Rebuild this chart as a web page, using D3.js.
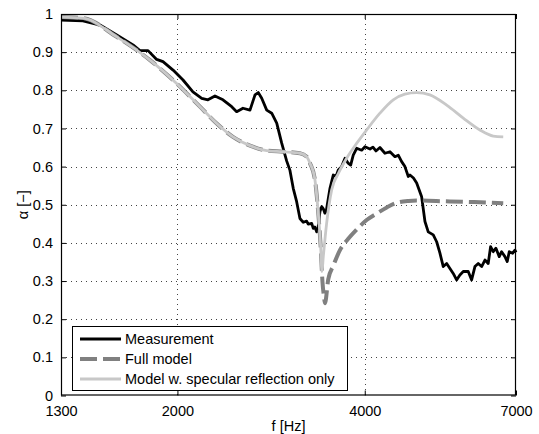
<!DOCTYPE html>
<html>
<head>
<meta charset="utf-8">
<script src="https://cdn.jsdelivr.net/npm/d3@7"></script>
<style>
  body { margin: 0; background: white; }
  svg { display: block; font-family: "Liberation Sans", Arial, sans-serif; }
</style>
</head>
<body>
<svg id="chart"></svg>
<script>
// measured absorption coefficient
const measFreq = [1300, 1410, 1502, 1598, 1697, 1741, 1794, 1852, 1896, 1968, 2042, 2118, 2188, 2239, 2298, 2367,
    2445, 2490, 2549, 2616, 2665, 2697, 2732, 2783, 2835, 2888, 2941, 2996, 3033, 3070, 3109, 3147, 3186, 3226,
    3245, 3287, 3306, 3325, 3348, 3365, 3389, 3411, 3430, 3452, 3470, 3517, 3560, 3596, 3627, 3672, 3718, 3762,
    3797, 3833, 3882, 3954, 4003, 4078, 4123, 4169, 4231, 4310, 4391, 4473, 4528, 4585, 4641, 4699, 4728, 4790,
    4847, 4937, 4998, 5059, 5154, 5219, 5283, 5348, 5416, 5482, 5549, 5619, 5688, 5759, 5866, 5940, 6013, 6087,
    6164, 6240, 6316, 6372, 6434, 6499, 6579, 6637, 6719, 6777, 6827, 6914, 6973, 7000];
const measAlpha = [0.984, 0.982, 0.971, 0.945, 0.919, 0.904, 0.904, 0.881, 0.875, 0.853, 0.827, 0.796, 0.779, 0.775, 0.785, 0.775,
    0.757, 0.744, 0.753, 0.748, 0.788, 0.794, 0.779, 0.748, 0.740, 0.714, 0.662, 0.615, 0.590, 0.543, 0.508, 0.464, 0.454, 0.457,
    0.449, 0.451, 0.438, 0.442, 0.429, 0.440, 0.482, 0.495, 0.490, 0.478, 0.485, 0.543, 0.578, 0.574, 0.591, 0.600, 0.622, 0.609,
    0.604, 0.630, 0.648, 0.643, 0.652, 0.646, 0.651, 0.641, 0.650, 0.635, 0.639, 0.626, 0.630, 0.613, 0.600, 0.574, 0.578, 0.570,
    0.557, 0.521, 0.456, 0.429, 0.421, 0.403, 0.373, 0.338, 0.346, 0.333, 0.320, 0.303, 0.316, 0.325, 0.325, 0.303, 0.338, 0.346,
    0.338, 0.355, 0.346, 0.390, 0.377, 0.386, 0.364, 0.377, 0.364, 0.351, 0.377, 0.373, 0.381, 0.375];

// full model
const fullFreq = [1300, 1410, 1598, 1807, 1994, 2174, 2313, 2456, 2616, 2783, 2956, 3147, 3226, 3266, 3327, 3368,
    3398, 3420, 3440, 3452, 3495, 3560, 3649, 3760, 3882, 4028, 4180, 4340, 4501, 4700, 4850, 5400, 6000, 6677];
const fullAlpha = [0.992, 0.989, 0.940, 0.879, 0.818, 0.757, 0.713, 0.678, 0.655, 0.642, 0.639, 0.635, 0.626, 0.609, 0.565, 0.478,
    0.390, 0.300, 0.258, 0.242, 0.305, 0.340, 0.381, 0.410, 0.435, 0.460, 0.477, 0.493, 0.505, 0.510, 0.511, 0.509, 0.507, 0.504];

// model with specular reflection only
const specFreq = [1300, 1410, 1598, 1807, 1994, 2174, 2313, 2456, 2616, 2783, 2956, 3147, 3226, 3266, 3327, 3368,
    3398, 3414, 3431, 3474, 3539, 3627, 3741, 3882, 4028, 4231, 4445, 4641, 4847, 5091, 5416, 5759, 6125, 6434, 6677];
const specAlpha = [0.992, 0.989, 0.940, 0.879, 0.818, 0.757, 0.713, 0.678, 0.655, 0.642, 0.639, 0.635, 0.626, 0.609, 0.565, 0.478,
    0.390, 0.325, 0.364, 0.452, 0.539, 0.582, 0.622, 0.661, 0.696, 0.740, 0.775, 0.790, 0.794, 0.788, 0.761, 0.727, 0.696, 0.680, 0.678];

const xTicks = [1300, 2000, 4000, 7000];
const yTicks = [0, 0.1, 0.2, 0.3, 0.4, 0.5, 0.6, 0.7, 0.8, 0.9, 1];
const legendLabels = ["Measurement", "Full model", "Model w. specular reflection only"];

const width = 539, height = 434;
const plotLeft = 61, plotRight = 516, plotTop = 14, plotBottom = 395.5;

const svg = d3.select("#chart").attr("width", width).attr("height", height);

const x = d3.scaleLog().domain([1300, 7000]).range([plotLeft, plotRight]);
const y = d3.scaleLinear().domain([0, 1]).range([plotBottom, plotTop]);

//dotted grid
svg.append("g")
    .selectAll("line")
    .data(yTicks.slice(1, -1))
    .join("line")
    .attr("x1", plotLeft).attr("x2", plotRight)
    .attr("y1", d => Math.round(y(d)) + 0.5).attr("y2", d => Math.round(y(d)) + 0.5)
    .attr("stroke", "#444").attr("stroke-width", 1).attr("stroke-dasharray", "1,4");

svg.append("g")
    .selectAll("line")
    .data(xTicks.slice(1, -1))
    .join("line")
    .attr("x1", d => Math.round(x(d)) + 0.5).attr("x2", d => Math.round(x(d)) + 0.5)
    .attr("y1", plotTop).attr("y2", plotBottom)
    .attr("stroke", "#444").attr("stroke-width", 1).attr("stroke-dasharray", "1,4");

//axes with inward ticks on all four sides
svg.append("g")
    .attr("transform", `translate(0,${plotBottom})`)
    .call(d3.axisBottom(x).tickValues(xTicks).tickSizeInner(-5).tickSizeOuter(0).tickPadding(10).tickFormat(d3.format("d")))
    .call(g => g.select(".domain").remove());
svg.append("g")
    .attr("transform", `translate(0,${plotTop})`)
    .call(d3.axisTop(x).tickValues(xTicks).tickSizeInner(-5).tickSizeOuter(0).tickFormat(""))
    .call(g => g.select(".domain").remove());
svg.append("g")
    .attr("transform", `translate(${plotLeft},0)`)
    .call(d3.axisLeft(y).tickValues(yTicks).tickSizeInner(-5).tickSizeOuter(0).tickPadding(8).tickFormat(d3.format("")))
    .call(g => g.select(".domain").remove());
svg.append("g")
    .attr("transform", `translate(${plotRight},0)`)
    .call(d3.axisRight(y).tickValues(yTicks).tickSizeInner(-5).tickSizeOuter(0).tickFormat(""))
    .call(g => g.select(".domain").remove());

svg.selectAll(".tick text").style("font-size", "14.5px").attr("fill", "#000");
svg.selectAll(".tick line").attr("stroke", "#000");

//curves
const line = d3.line().x(d => x(d[0])).y(d => y(d[1]));
const smooth = d3.line().x(d => x(d[0])).y(d => y(d[1])).curve(d3.curveMonotoneX);

const plot = svg.append("g");
plot.append("path")
    .attr("d", line(d3.zip(measFreq, measAlpha)))
    .attr("fill", "none").attr("stroke", "#000").attr("stroke-width", 2.8).attr("stroke-linejoin", "round");
plot.append("path")
    .attr("d", smooth(d3.zip(fullFreq, fullAlpha)))
    .attr("fill", "none").attr("stroke", "#808080").attr("stroke-width", 4).attr("stroke-dasharray", "17,6");
plot.append("path")
    .attr("d", smooth(d3.zip(specFreq, specAlpha)))
    .attr("fill", "none").attr("stroke", "#c8c8c8").attr("stroke-width", 2.8);

//frame
svg.append("rect")
    .attr("x", plotLeft + 0.5).attr("y", plotTop + 0.5)
    .attr("width", plotRight - plotLeft - 1).attr("height", plotBottom - plotTop - 1)
    .attr("fill", "none").attr("stroke", "#000").attr("stroke-width", 1.2);

//axis titles
svg.append("text")
    .attr("x", (plotLeft + plotRight) / 2).attr("y", 431)
    .attr("text-anchor", "middle").style("font-size", "14.5px")
    .text("f [Hz]");
svg.append("text")
    .attr("transform", `translate(28,${(plotTop + plotBottom) / 2}) rotate(-90)`)
    .attr("text-anchor", "middle").style("font-size", "14.5px")
    .text("α [−]");

//legend
const legend = svg.append("g");
legend.append("rect")
    .attr("x", 72.5).attr("y", 326.5).attr("width", 275).attr("height", 64)
    .attr("fill", "white").attr("stroke", "#000").attr("stroke-width", 1);
const legendStyles = [
    { color: "#000", width: 2.8, dash: null },
    { color: "#808080", width: 4, dash: "17,6" },
    { color: "#c8c8c8", width: 2.8, dash: null }
];
legendLabels.forEach((label, i) => {
    const yy = 339 + i * 20;
    legend.append("line")
        .attr("x1", 80).attr("x2", 121).attr("y1", yy).attr("y2", yy)
        .attr("stroke", legendStyles[i].color).attr("stroke-width", legendStyles[i].width)
        .attr("stroke-dasharray", legendStyles[i].dash);
    legend.append("text")
        .attr("x", 125).attr("y", yy + 5)
        .style("font-size", "14.5px")
        .text(label);
});
</script>
</body>
</html>
